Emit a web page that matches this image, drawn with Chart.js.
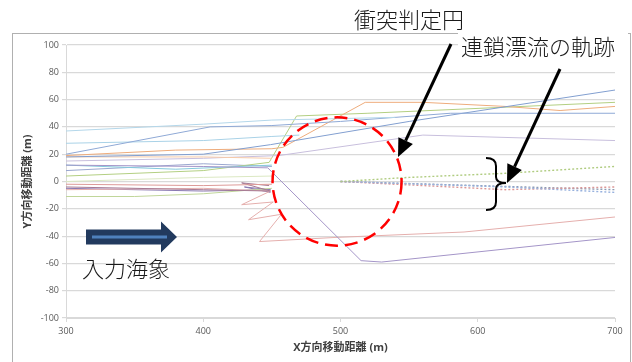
<!DOCTYPE html>
<html>
<head>
<meta charset="utf-8">
<script src="https://cdn.jsdelivr.net/npm/chart.js@4/dist/chart.umd.min.js"></script>
<style>
  html, body { margin: 0; padding: 0; background: #ffffff; }
  #wrap { width: 632px; height: 362px; }
</style>
</head>
<body>
<div id="wrap"><canvas id="c" width="632" height="362"></canvas></div>
<script>
// Axis ticks
const xTicks = [300, 400, 500, 600, 700];
const yTicks = [-100, -80, -60, -40, -20, 0, 20, 40, 60, 80, 100];

// Drift tracks, [X (m), Y (m)] per point
const track01 = [[300, 37], [400, 42], [450, 45], [540, 47]];
const track02 = [[300, 20], [405, 40], [450, 41], [500, 44], [580, 50], [700, 50]];
const track03 = [[300, 28], [400, 30], [450, 33], [470, 34]];
const track04 = [[300, 18], [400, 20], [449, 27], [550, 44], [700, 67]];
const track05 = [[300, 19], [380, 23], [450, 24], [458, 25], [518, 58], [560, 58], [620, 55], [660, 52], [700, 55]];
const track06 = [[300, 18], [400, 18], [450, 17]];
const track07 = [[300, 15], [400, 17], [455, 19], [560, 34], [700, 30]];
const track08 = [[300, 12], [400, 11], [447, 10], [515, -58], [530, -59], [700, -41]];
const track09 = [[300, 12], [380, 9], [450, 12]];
const track10 = [[300, 4], [400, 8], [448, 14], [468, 48], [520, 50], [700, 58]];
const track11 = [[300, 8], [400, 13], [450, 11]];
const track12 = [[300, 0], [400, 3], [450, 4]];
const track13 = [[300, -2], [400, -3], [450, -2]];
const track14 = [[300, -4], [400, -6], [449, -7], [428, -1], [448, -3]];
const track15 = [[300, -6], [400, -5], [449, -7], [428, -17], [451, -15], [433, -28], [457, -24], [441, -44], [496, -41], [590, -37], [700, -26]];
const track16 = [[300, -11], [350, -11], [400, -9], [450, -5]];
const track17 = [[300, -5], [400, -7], [449, -6], [430, -4], [449, -8]];

// Chain-drift tracks (dotted)
const chain01 = [[500, 0], [550, 3], [620, 6], [700, 11]];
const chain02 = [[500, 0], [560, -2], [620, -4], [700, -8]];
const chain03 = [[500, 0], [560, -3], [620, -6], [700, -4]];
const chain04 = [[500, 0], [600, -3], [700, -6]];

// Collision judgement circle: centre and radius (m)
const circleCenter = [497.5, 0];
const circleRadius = 47;

const solidTracks = [track01, track02, track03, track04, track05, track06, track07, track08, track09,
                     track10, track11, track12, track13, track14, track15, track16, track17];
const solidColors = ['#b4d7ea', '#8fa9d6', '#a9d2e7', '#829fd0', '#eeac7c', '#f6caa8', '#c8bfdd', '#a495c8',
                     '#85c9dc', '#b3cf82', '#9aa7cf', '#dbe8c2', '#dd9a98', '#a77b94', '#e5afad', '#c0d69a', '#8a79b2'];
const chainTracks = [chain01, chain02, chain03, chain04];
const chainColors = ['#b0cc80', '#97b1de', '#dc9897', '#8d9bb2'];

const toPts = t => t.map(p => ({ x: p[0], y: p[1] }));

const datasets = [];
chainTracks.forEach((t, i) => datasets.push({
  data: toPts(t), showLine: true, pointRadius: 0, borderWidth: 1.4,
  borderColor: chainColors[i], borderDash: [2, 2], tension: 0
}));
solidTracks.forEach((t, i) => datasets.push({
  data: toPts(t), showLine: true, pointRadius: 0, borderWidth: 1,
  borderColor: solidColors[i], tension: 0
}));

const labelFont = '"Open Sans", "Noto Sans CJK JP", sans-serif';
const cjkFont = '"Noto Sans CJK JP", sans-serif';

function arrow(ctx, x1, y1, x2, y2) {
  const a = Math.atan2(y2 - y1, x2 - x1);
  const L = 18, W = 8;
  const bx = x2 - L * Math.cos(a), by = y2 - L * Math.sin(a);
  ctx.strokeStyle = '#000'; ctx.lineWidth = 3; ctx.setLineDash([]);
  ctx.beginPath(); ctx.moveTo(x1, y1); ctx.lineTo(bx, by); ctx.stroke();
  ctx.fillStyle = '#000';
  ctx.beginPath();
  ctx.moveTo(x2, y2);
  ctx.lineTo(bx + W * Math.sin(a), by - W * Math.cos(a));
  ctx.lineTo(bx - W * Math.sin(a), by + W * Math.cos(a));
  ctx.closePath(); ctx.fill();
}

const overlay = {
  id: 'overlay',
  afterDraw(chart) {
    const ctx = chart.ctx;
    const xs = chart.scales.x, ys = chart.scales.y;
    ctx.save();

    // outer frame
    ctx.strokeStyle = '#b0b0b0'; ctx.lineWidth = 1;
    ctx.strokeRect(12.5, 33.5, 618, 340);

    // axis titles
    ctx.fillStyle = '#404040';
    ctx.font = 'bold 11px ' + labelFont;
    ctx.textAlign = 'center'; ctx.textBaseline = 'middle';
    ctx.fillText('X方向移動距離 (m)', (chart.chartArea.left + chart.chartArea.right) / 2, 348);
    ctx.save();
    ctx.translate(28, (chart.chartArea.top + chart.chartArea.bottom) / 2);
    ctx.rotate(-Math.PI / 2);
    ctx.fillText('Y方向移動距離 (m)', 0, 0);
    ctx.restore();

    // collision judgement circle
    const cx = xs.getPixelForValue(circleCenter[0]);
    const cy = ys.getPixelForValue(circleCenter[1]);
    const rx = xs.getPixelForValue(circleCenter[0] + circleRadius) - cx;
    const ry = cy - ys.getPixelForValue(circleCenter[1] + circleRadius);
    ctx.strokeStyle = '#ff0000'; ctx.lineWidth = 2.5; ctx.setLineDash([13, 7]);
    ctx.beginPath(); ctx.ellipse(cx, cy, rx, ry, 0, 0, Math.PI * 2); ctx.stroke();
    ctx.setLineDash([]);

    // label box for chain drift
    ctx.fillStyle = '#ffffff';
    ctx.fillRect(458, 31, 170, 30);

    // texts
    ctx.fillStyle = '#1a1a1a';
    ctx.font = '300 22px ' + cjkFont;
    ctx.textAlign = 'left'; ctx.textBaseline = 'middle';
    ctx.fillText('衝突判定円', 354, 20);
    ctx.fillText('連鎖漂流の軌跡', 461, 47);
    ctx.fillText('入力海象', 82, 269);

    // pointer arrows
    arrow(ctx, 451, 44, 398, 157);
    arrow(ctx, 560, 69, 507, 183);

    // brace
    ctx.strokeStyle = '#000'; ctx.lineWidth = 2;
    ctx.beginPath();
    ctx.moveTo(486, 158);
    ctx.quadraticCurveTo(496, 158, 496, 166);
    ctx.lineTo(496, 177);
    ctx.quadraticCurveTo(496, 183, 506, 183);
    ctx.quadraticCurveTo(496, 183, 496, 189);
    ctx.lineTo(496, 202);
    ctx.quadraticCurveTo(496, 210, 486, 210);
    ctx.stroke();

    // incoming sea-state block arrow
    ctx.fillStyle = '#223a5e';
    ctx.beginPath();
    ctx.moveTo(86, 229.5); ctx.lineTo(161, 229.5); ctx.lineTo(161, 221.5);
    ctx.lineTo(177, 237); ctx.lineTo(161, 252.5); ctx.lineTo(161, 244.5);
    ctx.lineTo(86, 244.5); ctx.closePath(); ctx.fill();
    ctx.strokeStyle = '#4f81bd'; ctx.lineWidth = 3;
    ctx.beginPath(); ctx.moveTo(92, 237); ctx.lineTo(167, 237); ctx.stroke();

    ctx.restore();
  }
};

new Chart(document.getElementById('c'), {
  type: 'scatter',
  data: { datasets },
  options: {
    responsive: false,
    animation: false,
    devicePixelRatio: 1,
    layout: { padding: { left: 0, right: 17, top: 45, bottom: 0 } },
    plugins: { legend: { display: false }, tooltip: { enabled: false } },
    scales: {
      x: {
        type: 'linear', min: 300, max: 700,
        afterBuildTicks: s => { s.ticks = xTicks.map(v => ({ value: v })); },
        afterFit: s => { s.height = 44; },
        grid: { drawOnChartArea: false, drawTicks: true, tickLength: 4, color: '#d9d9d9' },
        border: { color: '#d9d9d9' },
        ticks: { color: '#595959', font: { size: 9, family: labelFont }, padding: 4, maxRotation: 0 }
      },
      y: {
        type: 'linear', min: -100, max: 100,
        afterBuildTicks: s => { s.ticks = yTicks.map(v => ({ value: v })); },
        afterFit: s => { s.width = 66; },
        grid: { color: '#d9d9d9', tickLength: 4, lineWidth: 1.2 },
        border: { color: '#d9d9d9' },
        ticks: { color: '#595959', font: { size: 9, family: labelFont }, padding: 3 }
      }
    }
  },
  plugins: [overlay]
});
</script>
</body>
</html>
